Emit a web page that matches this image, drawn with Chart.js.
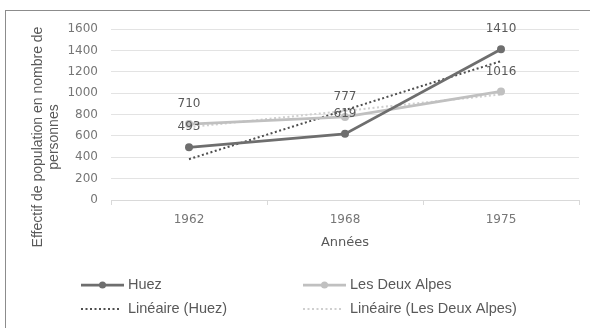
<!DOCTYPE html>
<html>
<head>
<meta charset="utf-8">
<script src="https://cdn.jsdelivr.net/npm/chart.js@4/dist/chart.umd.min.js"></script>
<style>
  html, body { margin: 0; padding: 0; background: #fff; }
  #wrap { position: relative; width: 590px; height: 328px; overflow: hidden; }
  #frame { position: absolute; left: 5px; top: 10px; width: 700px; height: 400px;
           border-left: 1.5px solid #8c8c8c; border-top: 1.5px solid #8c8c8c; }
  canvas { position: absolute; left: 0; top: 0; }
</style>
</head>
<body>
<div id="wrap">
  <canvas id="c" width="590" height="328"></canvas>
  <div id="frame"></div>
</div>
<script>
// Population counts by census year
const years = ['1962', '1968', '1975'];
const huez = [493, 619, 1410];
const deuxAlpes = [710, 777, 1016];
// Linear trend values for each series
const huezTrend = [382, 841, 1299];
const deuxAlpesTrend = [681, 834, 987];

const yTitle = ['Effectif de population en nombre de', 'personnes'];
const xTitle = 'Années';

const TEXT = '#595959';
const TICK = '#767676';
const C_HUEZ = '#6e6e6e';
const C_DA = '#c0c0c0';

// Value labels above the two main series
const valueLabels = {
  id: 'valueLabels',
  afterDatasetsDraw(chart) {
    const ctx = chart.ctx;
    ctx.save();
    ctx.font = '12px "DejaVu Sans"';
    ctx.fillStyle = TEXT;
    ctx.textAlign = 'center';
    ctx.textBaseline = 'middle';
    [0, 1].forEach(i => {
      const meta = chart.getDatasetMeta(i);
      const data = chart.data.datasets[i].data;
      meta.data.forEach((pt, j) => {
        ctx.fillText(String(data[j]), pt.x, pt.y - 20);
      });
    });
    ctx.restore();
  }
};

// Vertical axis title, centred on the plot height
const sideTitle = {
  id: 'sideTitle',
  afterDraw(chart) {
    const ctx = chart.ctx;
    ctx.save();
    ctx.font = '14px "Liberation Sans"';
    ctx.fillStyle = TEXT;
    ctx.textAlign = 'center';
    ctx.textBaseline = 'middle';
    ctx.translate(38, 137);
    ctx.rotate(-Math.PI / 2);
    yTitle.forEach((t, k) => ctx.fillText(t, 0, k * 16));
    ctx.restore();
  }
};

// Two-column legend under the chart
const bottomLegend = {
  id: 'bottomLegend',
  afterDraw(chart) {
    const ctx = chart.ctx;
    const ds = chart.data.datasets;
    const cols = [81, 303];
    const rows = [285, 309];
    ctx.save();
    ctx.font = '14.5px "Liberation Sans"';
    ctx.textBaseline = 'middle';
    ds.forEach((d, i) => {
      const x = cols[i % 2];
      const y = rows[Math.floor(i / 2)];
      ctx.strokeStyle = d.borderColor;
      ctx.lineWidth = d.borderWidth;
      ctx.setLineDash(d.borderDash || []);
      ctx.beginPath();
      ctx.moveTo(x, y);
      ctx.lineTo(x + (d.borderDash ? 40 : 43), y);
      ctx.stroke();
      ctx.setLineDash([]);
      if (!d.borderDash) {
        ctx.fillStyle = d.pointBackgroundColor;
        ctx.beginPath();
        ctx.arc(x + 21.5, y, 3.5, 0, Math.PI * 2);
        ctx.fill();
      }
      ctx.fillStyle = TEXT;
      ctx.fillText(d.label, x + 47, y);
    });
    ctx.restore();
  }
};

new Chart(document.getElementById('c'), {
  type: 'line',
  data: {
    labels: years,
    datasets: [
      { label: 'Huez', data: huez, borderColor: C_HUEZ, backgroundColor: C_HUEZ,
        pointBackgroundColor: C_HUEZ, pointBorderColor: C_HUEZ,
        borderWidth: 2.75, pointRadius: 4, pointBorderWidth: 0, tension: 0 },
      { label: 'Les Deux Alpes', data: deuxAlpes, borderColor: C_DA, backgroundColor: C_DA,
        pointBackgroundColor: C_DA, pointBorderColor: C_DA,
        borderWidth: 2.75, pointRadius: 4, pointBorderWidth: 0, tension: 0 },
      { label: 'Linéaire (Huez)', data: huezTrend, borderColor: '#4f4f4f',
        borderWidth: 2, borderDash: [2, 2.5], pointRadius: 0, tension: 0 },
      { label: 'Linéaire (Les Deux Alpes)', data: deuxAlpesTrend, borderColor: '#cfcfcf',
        borderWidth: 2, borderDash: [2, 2.5], pointRadius: 0, tension: 0 }
    ]
  },
  options: {
    responsive: false,
    animation: false,
    events: [],
    layout: { padding: { top: 29, right: 11, left: 0, bottom: 78 } },
    plugins: { legend: { display: false }, tooltip: { enabled: false }, title: { display: false } },
    scales: {
      x: {
        type: 'category',
        offset: true,
        grid: { offset: true, drawOnChartArea: false, drawTicks: true, tickLength: 5, color: '#d9d9d9' },
        border: { display: true, color: '#d9d9d9' },
        ticks: { color: TICK, font: { family: 'DejaVu Sans', size: 12 }, padding: 8 },
        title: { display: true, text: xTitle, color: TEXT,
                 font: { family: 'DejaVu Sans', size: 13 }, padding: { top: 2, bottom: 0 } },
        afterFit(s) { s.height = 50; }
      },
      y: {
        min: 0, max: 1600,
        ticks: { stepSize: 200, color: TICK, font: { family: 'DejaVu Sans', size: 12 }, padding: 13,
                 callback: v => String(v) },
        grid: { color: '#e3e3e3', drawTicks: false },
        border: { display: false },
        afterFit(s) { s.width = 111; }
      }
    }
  },
  plugins: [valueLabels, sideTitle, bottomLegend]
});
</script>
</body>
</html>
